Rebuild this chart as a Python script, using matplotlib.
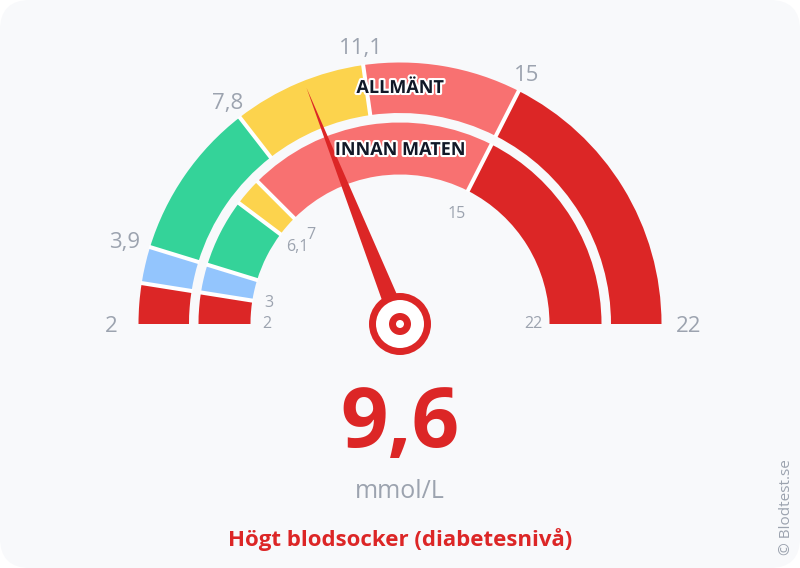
import numpy as np
import matplotlib
matplotlib.use("Agg")
import matplotlib.pyplot as plt
from matplotlib.patches import Wedge, Circle, Polygon, FancyBboxPatch
import matplotlib.patheffects as pe

plt.rcParams['font.family'] = ['Open Sans', 'DejaVu Sans']

# ---------------- data ----------------
vmin, vmax = 2, 22
value = 9.6
unit = "mmol/L"
status = "Högt blodsocker (diabetesnivå)"

outer_name = "ALLMÄNT"
outer_bounds = [2, 3, 3.9, 7.8, 11.1, 15, 22]
outer_colors = ["#dc2626", "#93c5fd", "#34d399", "#fcd34d", "#f87171", "#dc2626"]
outer_labels = [2, 3.9, 7.8, 11.1, 15, 22]

inner_name = "INNAN MATEN"
inner_bounds = [2, 3, 3.9, 6.1, 7, 15, 22]
inner_colors = ["#dc2626", "#93c5fd", "#34d399", "#fcd34d", "#f87171", "#dc2626"]
inner_labels = [2, 3, 6.1, 7, 15, 22]

# ---------------- layout ----------------
W, H = 800, 568
cx, cy = 400, H - 324
R_out = (211, 261.5)
R_in = (149.5, 201.5)
GREY = "#9ca3af"
RED = "#dc2626"
BG = "#f8f9fb"


def ang(v):
    return 180.0 - (v - vmin) / (vmax - vmin) * 180.0


def fmt(v):
    s = ("%g" % v)
    return s.replace(".", ",")


fig = plt.figure(figsize=(W / 100, H / 100), dpi=100)
fig.patch.set_facecolor("white")
ax = fig.add_axes([0, 0, 1, 1])
ax.set_xlim(0, W)
ax.set_ylim(0, H)
ax.set_aspect("equal")
ax.axis("off")

ax.add_patch(FancyBboxPatch((0, 0), W, H, boxstyle="round,pad=0,rounding_size=30",
                            fc=BG, ec="none", zorder=0))


def draw_band(bounds, colors, radii):
    r0, r1 = radii
    for a, b, c in zip(bounds[:-1], bounds[1:], colors):
        ax.add_patch(Wedge((cx, cy), r1, ang(b), ang(a), width=r1 - r0,
                           fc=c, ec="none", zorder=2))
    for b in bounds[1:-1]:
        t = np.deg2rad(ang(b))
        ax.plot([cx + (r0 - 1) * np.cos(t), cx + (r1 + 1) * np.cos(t)],
                [cy + (r0 - 1) * np.sin(t), cy + (r1 + 1) * np.sin(t)],
                color="white", lw=2.9, solid_capstyle="butt", zorder=3)


draw_band(outer_bounds, outer_colors, R_out)
draw_band(inner_bounds, inner_colors, R_in)

# outer labels
for v in outer_labels:
    t = np.deg2rad(ang(v))
    r = 279 + 10 * abs(np.cos(t)) ** 3
    ax.text(cx + r * np.cos(t), cy + r * np.sin(t) - 3 * abs(np.cos(t)), fmt(v),
            ha="center", va="center", fontsize=16, color=GREY, zorder=4)

# inner labels
for v in inner_labels:
    t = np.deg2rad(ang(v))
    r = 123 + 10 * abs(np.cos(t)) ** 3
    ax.text(cx + r * np.cos(t), cy + r * np.sin(t), fmt(v), ha="center", va="center",
            fontsize=11.5, color=GREY, zorder=4)

# band names
stroke = [pe.withStroke(linewidth=3, foreground="white")]
ax.text(cx, H - 88, outer_name, ha="center", va="center", fontsize=13, fontweight="bold",
        color="#111827", path_effects=stroke, zorder=6)
ax.text(cx, H - 150, inner_name, ha="center", va="center", fontsize=13, fontweight="bold",
        color="#111827", path_effects=stroke, zorder=6)

# needle
t = np.deg2rad(ang(value))
L = 254
hw = 9
tip = (cx + L * np.cos(t), cy + L * np.sin(t))
p1 = (cx + hw * np.cos(t + np.pi / 2), cy + hw * np.sin(t + np.pi / 2))
p2 = (cx + hw * np.cos(t - np.pi / 2), cy + hw * np.sin(t - np.pi / 2))
ax.add_patch(Polygon([tip, p1, p2], closed=True, fc=RED, ec="none", zorder=5))
ax.add_patch(Circle((cx, cy), 31, fc=RED, ec="none", zorder=5))
ax.add_patch(Circle((cx, cy), 24, fc="white", ec="none", zorder=5))
ax.add_patch(Circle((cx, cy), 11, fc=RED, ec="none", zorder=5))
ax.add_patch(Circle((cx, cy), 4, fc="white", ec="none", zorder=5))

# value text
ax.text(cx, H - 425, fmt(value), ha="center", va="center", fontsize=60, fontweight="bold",
        color=RED, zorder=6)
ax.text(cx, H - 491, unit, ha="center", va="center", fontsize=18, color=GREY, zorder=6)
ax.text(cx, H - 540, status, ha="center", va="center", fontsize=16, fontweight="bold",
        color=RED, zorder=6)
ax.text(787, H - 507, "© Blodtest.se", ha="center", va="center", rotation=90,
        fontsize=11, color=GREY, zorder=6)

fig.savefig("out.png", dpi=100, facecolor=fig.get_facecolor())
